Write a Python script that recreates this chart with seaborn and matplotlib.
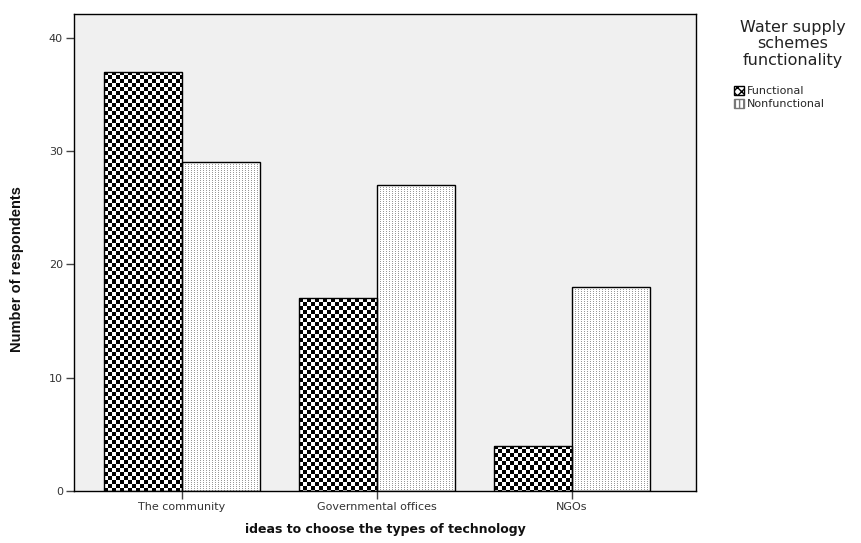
import numpy as np
import pandas as pd
import matplotlib
matplotlib.use('Agg')
import matplotlib.pyplot as plt
from matplotlib.patches import Patch
import seaborn as sns

# data
categories = ['The community', 'Governmental offices', 'NGOs']
functional = [37, 17, 4]
nonfunctional = [29, 27, 18]
groups = ['Functional', 'Nonfunctional']

df = pd.DataFrame({
    'idea': categories * 2,
    'status': ['Functional'] * 3 + ['Nonfunctional'] * 3,
    'count': functional + nonfunctional,
})

sns.set_theme(style='white')
plt.rcParams['font.family'] = ['DejaVu Sans']

fig = plt.figure(figsize=(8.61, 5.43), dpi=100)
ax = fig.add_axes([74 / 861, 1 - 491 / 543, (696 - 74) / 861, (491 - 14) / 543])
ax.set_facecolor('#f0f0f0')

sns.barplot(data=df, x='idea', y='count', hue='status', hue_order=groups,
            palette=['white', 'white'], edgecolor='black', linewidth=1,
            width=0.8, gap=0, ax=ax, legend=False, zorder=2)

ax.set_xlim(-0.554, 2.636)
ax.set_ylim(0, 42.1)
ax.set_yticks([0, 10, 20, 30, 40])

# textures: checkerboard for Functional, fine dotted for Nonfunctional
fig.canvas.draw()
for i, p in enumerate(ax.patches[:6]):
    x0, y0 = p.get_x(), p.get_y()
    w, h = p.get_width(), p.get_height()
    (px0, py0), (px1, py1) = ax.transData.transform([(x0, y0), (x0 + w, y0 + h)])
    nw, nh = max(int(round(px1 - px0)), 1), max(int(round(py1 - py0)), 1)
    jj, ii = np.meshgrid(np.arange(nw), np.arange(nh))
    if i < 3:
        tex = (((ii // 4) + (jj // 4)) % 2).astype(float)
    else:
        tex = np.ones((nh, nw))
        tex[(jj % 3 == 0) & (ii % 2 == 0)] = 0.6
    im = ax.imshow(tex, cmap='gray', vmin=0, vmax=1, interpolation='nearest',
                   extent=[x0, x0 + w, y0, y0 + h], aspect='auto', zorder=2.5)
    im.set_clip_path(p)
    p.set_facecolor('none')
    p.set_zorder(3)

ax.set_xlim(-0.554, 2.636)
ax.set_ylim(0, 42.1)

for s in ax.spines.values():
    s.set_visible(True)
    s.set_color('black')
    s.set_linewidth(1)

ax.tick_params(axis='both', which='major', direction='out', length=6, width=1,
               color='#444444', labelsize=8, labelcolor='#333333', pad=2,
               left=True, bottom=True)

ax.set_ylabel('Number of respondents', fontsize=10.5, family='Liberation Sans',
              fontweight='bold', color='#111111')
ax.yaxis.set_label_coords(-50 / 622, 1 - (269 - 14) / 477)
ax.set_xlabel('ideas to choose the types of technology', fontsize=9,
              fontweight='bold', color='#111111')
ax.xaxis.set_label_coords(0.5, -32 / 477)

fig.text(793 / 861, 1 - 20 / 543, 'Water supply\nschemes\nfunctionality',
         ha='center', va='top', fontsize=11.5, color='#222222', linespacing=1.12)

handles = [Patch(facecolor='white', edgecolor='black', hatch='xxxx', label='Functional'),
           Patch(facecolor='white', edgecolor='#777777', hatch='||||', label='Nonfunctional')]
leg = fig.legend(handles=handles, loc='upper left',
                 bbox_to_anchor=(734 / 861, 1 - 86 / 543),
                 frameon=False, fontsize=8,
                 handlelength=0.9, handleheight=0.9, handletextpad=0.3,
                 labelspacing=0.2, borderpad=0, borderaxespad=0)

fig.savefig('out.png', dpi=100)
